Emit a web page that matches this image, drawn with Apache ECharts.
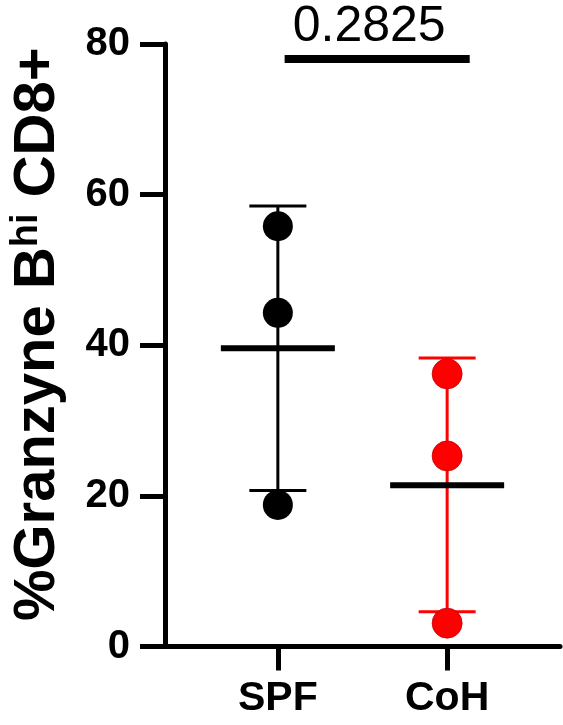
<!DOCTYPE html>
<html>
<head>
<meta charset="utf-8">
<script src="https://cdn.jsdelivr.net/npm/echarts@6/dist/echarts.min.js"></script>
<style>
html,body{margin:0;padding:0;background:#fff;}
#main{width:563px;height:725px;}
</style>
</head>
<body>
<div id="main"></div>
<script>
// groups on the x axis and where they sit on the (hidden) value scale
var groups = ['SPF', 'CoH'];
var groupX = [2, 5];
var groupColor = ['#000000', '#ff0000'];

// individual points
var spfPoints = [55.8, 44.3, 18.8];
var cohPoints = [36.2, 25.3, 3.1];

// mean and error bar ends (mean +- SD)
var means = [39.6, 21.4];
var errLow = [20.7, 4.6];
var errHigh = [58.5, 38.3];

// significance bar
var sigFrom = 2.12, sigTo = 5.40, sigY = 78.0, sigText = '0.2825';

var yTicks = [0, 20, 40, 60, 80];

var font = '"Liberation Sans", Arial, sans-serif';

function pts(x, arr){
	var out = [];
	for(var i = 0; i < arr.length; i++){
		out.push([x, arr[i]]);
	}
	return out;
}

var errData = [];
for(var i = 0; i < groups.length; i++){
	errData.push([groupX[i], errLow[i], errHigh[i], means[i], i]);
}

var myChart = echarts.init(document.getElementById('main'));

var option = {
	animation: false,
	backgroundColor: '#fff',
	grid: {left: 159, right: 3, top: 44, bottom: 78.5, containLabel: false},
	xAxis: {
		type: 'value',
		min: 0,
		max: 7,
		splitLine: {show: false},
		axisLine: {show: true, onZero: false, lineStyle: {color: '#000', width: 5}},
		axisTick: {show: true, customValues: groupX, length: 24, inside: false, lineStyle: {color: '#000', width: 5}},
		axisLabel: {
			show: true,
			customValues: groupX,
			margin: 32,
			fontFamily: font,
			fontWeight: 'bold',
			fontSize: 41,
			color: '#000',
			formatter: function(v){
				var k = groupX.indexOf(v);
				return k >= 0 ? groups[k] : '';
			}
		}
	},
	yAxis: {
		type: 'value',
		min: yTicks[0],
		max: yTicks[yTicks.length - 1],
		interval: 20,
		splitLine: {show: false},
		axisLine: {show: true, lineStyle: {color: '#000', width: 5}},
		axisTick: {show: true, length: 25, lineStyle: {color: '#000', width: 5}},
		axisLabel: {margin: 35, fontFamily: font, fontWeight: 'bold', fontSize: 40, color: '#000'},
		name: '%Granzyne B{sup|hi} CD8+',
		nameLocation: 'middle',
		nameGap: 97,
		nameRotate: 90,
		nameTextStyle: {
			fontFamily: font,
			fontWeight: 'bold',
			fontSize: 58,
			color: '#000',
			padding: [0, 0, 0, 22],
			rich: {
				sup: {fontFamily: font, fontWeight: 'bold', fontSize: 38, color: '#000', verticalAlign: 'top', padding: [0, 0, 22, 0]}
			}
		}
	},
	series: [
		{
			// error bars + mean line
			type: 'custom',
			z: 2,
			data: errData,
			renderItem: function(params, api){
				var x = api.value(0);
				var lo = api.coord([x, api.value(1)]);
				var hi = api.coord([x, api.value(2)]);
				var mid = api.coord([x, api.value(3)]);
				var c = groupColor[api.value(4)];
				var cap = 28.5, half = 57;
				return {
					type: 'group',
					children: [
						{type: 'line', shape: {x1: lo[0], y1: lo[1], x2: hi[0], y2: hi[1]}, style: {stroke: c, lineWidth: 3}},
						{type: 'line', shape: {x1: hi[0] - cap, y1: hi[1], x2: hi[0] + cap, y2: hi[1]}, style: {stroke: c, lineWidth: 3}},
						{type: 'line', shape: {x1: lo[0] - cap, y1: lo[1], x2: lo[0] + cap, y2: lo[1]}, style: {stroke: c, lineWidth: 3}},
						{type: 'line', z2: 10, shape: {x1: mid[0] - half, y1: mid[1], x2: mid[0] + half, y2: mid[1]}, style: {stroke: '#000', lineWidth: 6}}
					]
				};
			}
		},
		{
			type: 'scatter',
			z: 3,
			symbol: 'circle',
			symbolSize: 30,
			itemStyle: {color: groupColor[0], opacity: 1},
			data: pts(groupX[0], spfPoints)
		},
		{
			type: 'scatter',
			z: 3,
			symbol: 'circle',
			symbolSize: 30,
			itemStyle: {color: groupColor[1], borderColor: '#c00000', borderWidth: 0.8, opacity: 1},
			data: pts(groupX[1], cohPoints)
		},
		{
			// significance bar with p value
			type: 'custom',
			z: 4,
			data: [[sigFrom, sigTo, sigY]],
			renderItem: function(params, api){
				var a = api.coord([api.value(0), api.value(2)]);
				var b = api.coord([api.value(1), api.value(2)]);
				return {
					type: 'group',
					children: [
						{type: 'rect', shape: {x: a[0], y: a[1] - 4, width: b[0] - a[0], height: 8}, style: {fill: '#000'}},
						{type: 'text', style: {
							text: sigText,
							x: (a[0] + b[0]) / 2 - 8,
							y: a[1] - 7,
							align: 'center',
							verticalAlign: 'bottom',
							fontFamily: font,
							fontSize: 50,
							fill: '#000'
						}}
					]
				};
			}
		}
	]
};

myChart.setOption(option);
</script>
</body>
</html>
